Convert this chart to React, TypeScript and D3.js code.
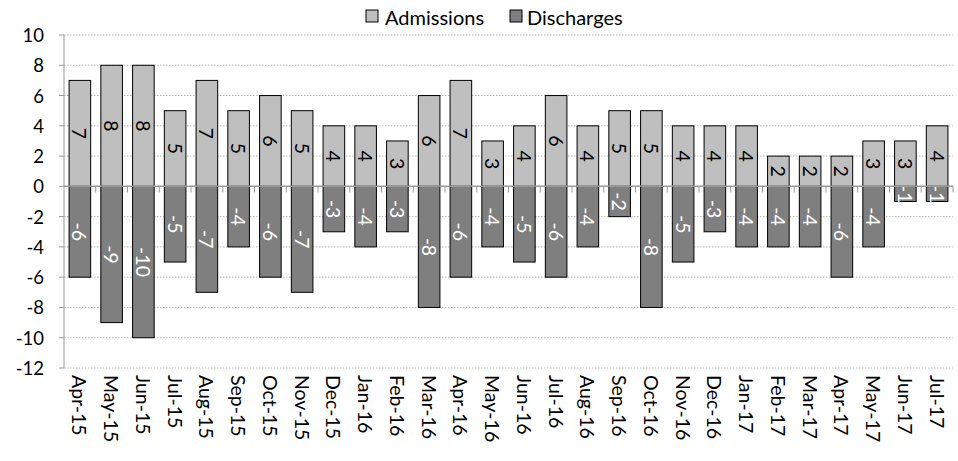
import React from "react";
import * as d3 from "d3";

const categories = ["Apr-15","May-15","Jun-15","Jul-15","Aug-15","Sep-15","Oct-15","Nov-15","Dec-15","Jan-16","Feb-16","Mar-16","Apr-16","May-16","Jun-16","Jul-16","Aug-16","Sep-16","Oct-16","Nov-16","Dec-16","Jan-17","Feb-17","Mar-17","Apr-17","May-17","Jun-17","Jul-17"];
const admissions = [7,8,8,5,7,5,6,5,4,4,3,6,7,3,4,6,4,5,5,4,4,4,2,2,2,3,3,4];
const discharges = [-6,-9,-10,-5,-7,-4,-6,-7,-3,-4,-3,-8,-6,-4,-5,-6,-4,-2,-8,-5,-3,-4,-4,-4,-6,-4,-1,-1];
const yTicks = [10,8,6,4,2,0,-2,-4,-6,-8,-10,-12];

const W = 958, H = 461;
const FONT = "Lato, 'Open Sans', sans-serif";

export default function App() {
  const left = 64, right = 953, top = 35, bottom = 368;
  const x = d3.scaleBand<string>().domain(categories).range([left, right]).paddingInner(0.32).paddingOuter(0.16);
  const y = d3.scaleLinear().domain([-12, 10]).range([bottom, top]);
  const bw = x.bandwidth();
  const step = x.step();
  const y0 = y(0);
  return (
    <svg width={W} height={H} style={{ position: "absolute", left: 0, top: 0, background: "#fff" }} fontFamily={FONT}>
      {yTicks.map((t) => (
        <g key={t}>
          {t !== 0 && <line x1={left} x2={right} y1={y(t)} y2={y(t)} stroke="#b8b8b8" strokeWidth={1} strokeDasharray="1.5,1.5" />}
          <line x1={left - 5} x2={left} y1={y(t)} y2={y(t)} stroke="#999" strokeWidth={1} />
          <text x={44} y={y(t)} textAnchor="end" dominantBaseline="central" fontSize={18.5} fill="#000">{t}</text>
        </g>
      ))}
      {categories.map((c, i) => {
        const xa = x(c)!;
        const ya = y(admissions[i]);
        const yd = y(discharges[i]);
        const cx = xa + bw / 2;
        return (
          <g key={c}>
            <rect x={xa} y={ya} width={bw} height={y0 - ya} fill="#bfbfbf" stroke="#000" strokeWidth={1} />
            <rect x={xa} y={y0} width={bw} height={yd - y0} fill="#7f7f7f" stroke="#000" strokeWidth={1} />
            <text transform={`translate(${cx},${(ya + y0) / 2}) rotate(90)`} textAnchor="middle" dominantBaseline="central" fontSize={19.5} fill="#000">{admissions[i]}</text>
            <text transform={`translate(${cx},${(yd + y0) / 2}) rotate(90)`} textAnchor="middle" dominantBaseline="central" fontSize={19.5} fill="#fff">{discharges[i]}</text>
            <text transform={`translate(${cx},375) rotate(90)`} textAnchor="start" dominantBaseline="central" fontSize={19.5} fill="#000">{c}</text>
          </g>
        );
      })}
      {categories.map((c, i) => (
        <line key={"t" + i} x1={left + step * (i + 1)} x2={left + step * (i + 1)} y1={y0} y2={y0 + 6} stroke="#999" strokeWidth={1} />
      ))}
      <line x1={left} x2={right} y1={y0} y2={y0} stroke="#999" strokeWidth={1.5} />
      <line x1={left} x2={left} y1={top} y2={bottom} stroke="#999" strokeWidth={1} />
      <g>
        <rect x={366} y={10} width={12} height={12} fill="#bfbfbf" stroke="#000" strokeWidth={1} />
        <text x={385} y={16.5} dominantBaseline="central" fontSize={20} fill="#000">Admissions</text>
        <rect x={510} y={10} width={12} height={12} fill="#7f7f7f" stroke="#000" strokeWidth={1} />
        <text x={527} y={16.5} dominantBaseline="central" fontSize={20} fill="#000">Discharges</text>
      </g>
    </svg>
  );
}
